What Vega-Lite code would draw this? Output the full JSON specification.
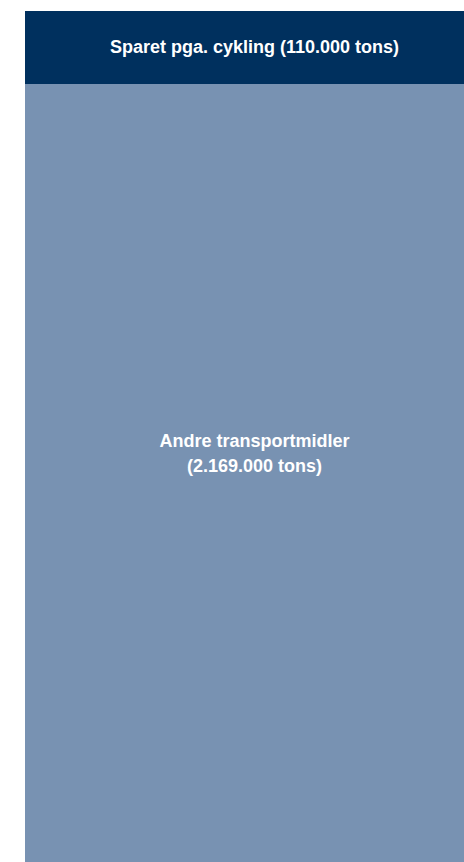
{
  "$schema": "https://vega.github.io/schema/vega-lite/v6.json",
  "autosize": "none",
  "padding": {"left": 25, "top": 11, "right": 0, "bottom": 0},
  "width": 439,
  "height": 851,
  "background": "white",
  "config": {"view": {"stroke": null}},
  "data": {
    "values": [
      {"bar": "CO2", "segment": "Sparet pga. cykling", "start": 0, "end": 110, "line1": "Sparet pga. cykling (110.000 tons)"},
      {"bar": "CO2", "segment": "Andre transportmidler", "start": 110, "end": 2279, "line1": "Andre transportmidler"}
    ]
  },
  "encoding": {
    "x": {"field": "bar", "type": "nominal", "axis": null, "scale": {"paddingInner": 0, "paddingOuter": 0}}
  },
  "layer": [
    {
      "mark": {"type": "rect"},
      "encoding": {
        "y": {"field": "start", "type": "quantitative", "axis": null, "scale": {"domain": [0, 1282], "reverse": true, "clamp": true, "zero": true, "nice": false}},
        "y2": {"field": "end"},
        "color": {"field": "segment", "type": "nominal", "legend": null, "scale": {"domain": ["Sparet pga. cykling", "Andre transportmidler"], "range": ["#00305E", "#7892B2"]}}
      }
    },
    {
      "transform": [{"filter": "datum.segment === 'Sparet pga. cykling'"}],
      "mark": {"type": "text", "font": "Liberation Sans", "fontWeight": "bold", "fontSize": 18, "color": "white", "baseline": "middle", "dx": 10, "dy": 37},
      "encoding": {
        "y": {"field": "start", "type": "quantitative"},
        "text": {"field": "line1"}
      }
    },
    {
      "transform": [{"filter": "datum.segment === 'Andre transportmidler'"}],
      "mark": {"type": "text", "font": "Liberation Sans", "fontWeight": "bold", "fontSize": 18, "color": "white", "baseline": "middle", "dx": 10, "dy": 358, "lineHeight": 25},
      "encoding": {
        "y": {"field": "start", "type": "quantitative"},
        "text": {"value": ["Andre transportmidler", "(2.169.000 tons)"]}
      }
    }
  ]
}
